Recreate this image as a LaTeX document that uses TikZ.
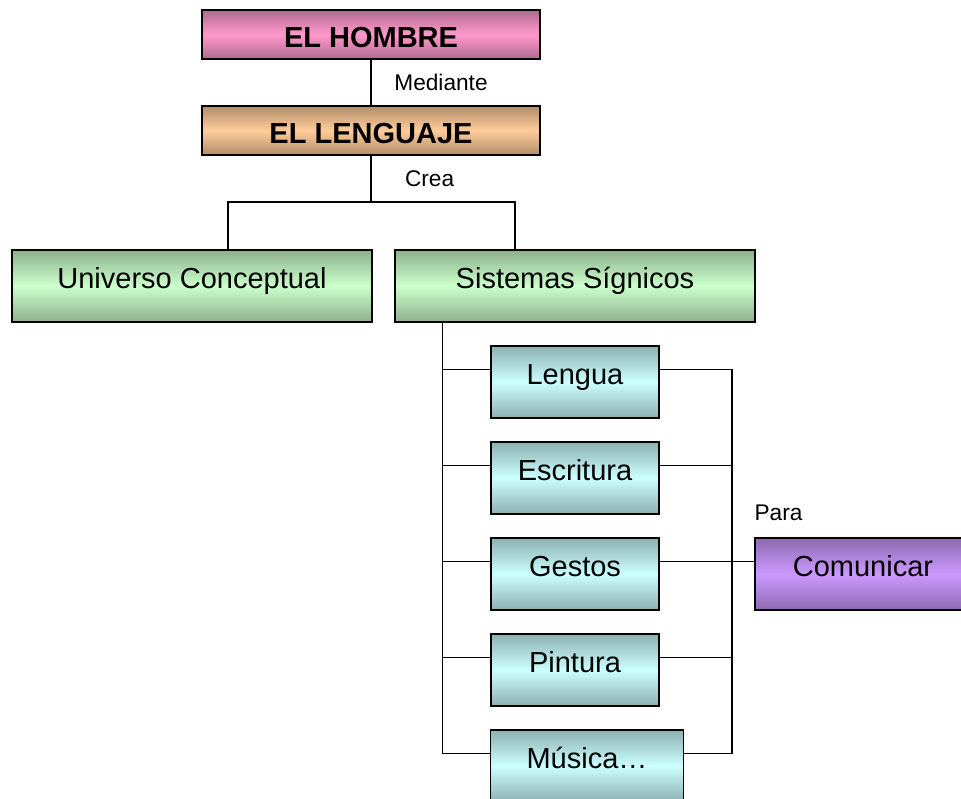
\documentclass[tikz,border=0pt]{standalone}
\usepackage{fontspec}
\setmainfont{Liberation Sans}
\usepackage{tikz}
\usetikzlibrary{calc}
\usetikzlibrary{positioning}

\definecolor{rosaL}{HTML}{FF99CC}
\definecolor{rosaD}{HTML}{B06A8D}
\definecolor{naranL}{HTML}{FFCC99}
\definecolor{naranD}{HTML}{B08D6A}
\definecolor{verdeL}{HTML}{CCFFCC}
\definecolor{verdeD}{HTML}{8DB08D}
\definecolor{cianL}{HTML}{CCFFFF}
\definecolor{cianD}{HTML}{8DB0B0}
\definecolor{lilaL}{HTML}{CC99FF}
\definecolor{lilaD}{HTML}{8D6AB0}

\tikzset{
caja/.style={rectangle, draw=black, line width=1.1pt, inner sep=0pt,
  font=\fontsize{21.75}{26}\selectfont, text height=15pt, text depth=12pt,
  minimum height=54pt},
titulo/.style={caja, font=\fontsize{21.75}{26}\selectfont\bfseries,
  text height=19.5pt, text depth=0pt, minimum width=253.5pt, minimum height=36.75pt},
rosa/.style={top color=rosaD, bottom color=rosaD, middle color=rosaL},
naranja/.style={top color=naranD, bottom color=naranD, middle color=naranL},
verde/.style={top color=verdeD, bottom color=verdeD, middle color=verdeL},
cian/.style={top color=cianD, bottom color=cianD, middle color=cianL},
lila/.style={top color=lilaD, bottom color=lilaD, middle color=lilaL},
lbl/.style={inner sep=0pt, font=\fontsize{17}{20}\selectfont},
linea/.style={line width=1.1pt}
}

\begin{document}
\begin{tikzpicture}[x=0.75pt, y=-0.75pt]
    \clip (0,0) rectangle (961,799);

    \node[titulo, rosa] (A) at (371,34.5) {EL HOMBRE};
    \node[titulo, naranja] (B) at (371,130.5) {EL LENGUAJE};
    \node[caja, verde, minimum width=270pt] (C) at (192,286) {Universo Conceptual};
    \node[caja, verde, minimum width=270pt] (D) at (575,286) {Sistemas Sígnicos};

    \node[caja, cian, minimum width=126pt] (E) at (575,382) {Lengua};
    \node[caja, cian, minimum width=126pt] (F) at (575,478) {Escritura};
    \node[caja, cian, minimum width=126pt] (G) at (575,574) {Gestos};
    \node[caja, cian, minimum width=126pt] (H) at (575,670) {Pintura};
    \node[caja, cian, minimum width=144.75pt] (I) at (587,766) {Música…};
    \node[caja, lila, minimum width=162pt] (K) at (863,574) {Comunicar};
    \node[lbl, above right=12pt and 0pt of K.north west, anchor=south west] (P) {Para};

    \coordinate (fork) at (371,202);
    \coordinate (busL) at ($(D.south west)+(48,0)$);
    \coordinate (busR) at (732,562);

    \draw[linea] (A) -- (B) node[lbl, midway, right=17pt] (med) {Mediante};
    \draw[linea] (B) -- (fork) node[lbl, midway, right=25pt] (cre) {Crea};
    \draw[linea] (fork) -| ($(C.north)+(36,0)$);
    \draw[linea] (fork) -| ($(D.north)+(-60,0)$);

    \draw[linea] (busL) |- ($(E.north west)+(0,24)$);
    \draw[linea] (busL) |- ($(F.north west)+(0,24)$);
    \draw[linea] (busL) |- ($(G.north west)+(0,24)$);
    \draw[linea] (busL) |- ($(H.north west)+(0,24)$);
    \draw[linea] (busL) |- ($(I.north west)+(0,24)$);

    \draw[linea] ($(E.north east)+(0,24)$) -| (busR);
    \draw[linea] ($(F.north east)+(0,24)$) -| (busR);
    \draw[linea] ($(H.north east)+(0,24)$) -| (busR);
    \draw[linea] ($(I.north east)+(0,24)$) -| (busR);
    \draw[linea] ($(G.north east)+(0,24)$) -- ($(K.north west)+(0,24)$);

\end{tikzpicture}
\end{document}
